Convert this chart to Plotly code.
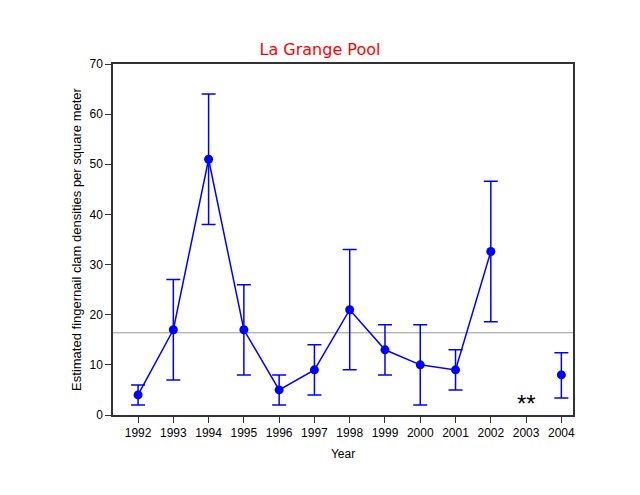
import plotly.graph_objects as go

years = [1992, 1993, 1994, 1995, 1996, 1997, 1998, 1999, 2000, 2001, 2002]
density = [4, 17, 51, 17, 5, 9, 21, 13, 10, 9, 32.6]
upper = [6, 27, 64, 26, 8, 14, 33, 18, 18, 13, 46.6]
lower = [2, 7, 38, 8, 2, 4, 9, 8, 2, 5, 18.6]

year_2004 = [2004]
density_2004 = [8]
upper_2004 = [12.4]
lower_2004 = [3.4]

mean_line = 16.4
missing_year = 2003
missing_label = "**"
missing_y = 2.2

tick_years = list(range(1992, 2005))

blue = "#0000FF"

fig = go.Figure()
fig.add_trace(go.Scatter(
    x=years, y=density, mode="lines+markers",
    line=dict(color=blue, width=1.5),
    marker=dict(color=blue, size=9),
    error_y=dict(type="data", symmetric=False,
                 array=[u - d for u, d in zip(upper, density)],
                 arrayminus=[d - l for d, l in zip(density, lower)],
                 color=blue, thickness=1.5, width=7),
    showlegend=False,
))
fig.add_trace(go.Scatter(
    x=year_2004, y=density_2004, mode="markers",
    marker=dict(color=blue, size=9),
    error_y=dict(type="data", symmetric=False,
                 array=[u - d for u, d in zip(upper_2004, density_2004)],
                 arrayminus=[d - l for d, l in zip(density_2004, lower_2004)],
                 color=blue, thickness=1.5, width=7),
    showlegend=False,
))
fig.add_shape(type="line", xref="paper", x0=0, x1=1, yref="y", y0=mean_line, y1=mean_line,
              line=dict(color="#999999", width=1), layer="below")
fig.add_annotation(x=missing_year, y=missing_y, text=missing_label, showarrow=False,
                   font=dict(size=24, color="black", family="Liberation Sans"))

fig.update_layout(
    width=640, height=495,
    margin=dict(l=113, r=67, t=64, b=80),
    paper_bgcolor="white", plot_bgcolor="white",
    title=dict(text="La Grange Pool", x=0.5, xanchor="center", y=1 - 49 / 495, yanchor="middle",
               font=dict(family="DejaVu Sans", size=16, color="#FF0000")),
    font=dict(family="Liberation Sans", size=12, color="black"),
    xaxis=dict(range=[1991.29, 2004.33], tickvals=tick_years, ticktext=[str(y) for y in tick_years],
               showgrid=False, zeroline=False, showline=True, linecolor="#333333", linewidth=1.5,
               mirror=True, ticks="outside", ticklen=6, tickcolor="#333333",
               title=dict(text="Year", font=dict(size=12), standoff=10)),
    yaxis=dict(range=[0, 70], tickvals=[0, 10, 20, 30, 40, 50, 60, 70],
               showgrid=False, zeroline=False, showline=True, linecolor="#333333", linewidth=1.5,
               mirror=True, ticks="outside", ticklen=6, tickcolor="#333333",
               title=dict(text="Estimated fingernail clam densities per square meter", font=dict(size=13), standoff=5)),
)

fig.write_html("out.html")
